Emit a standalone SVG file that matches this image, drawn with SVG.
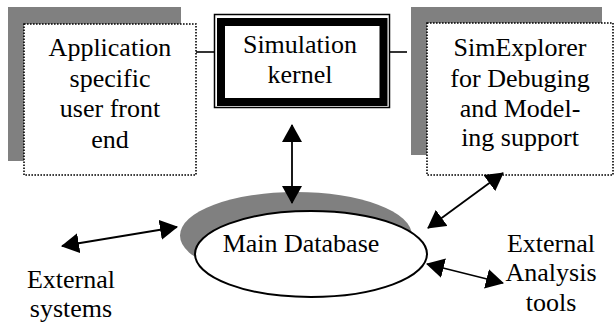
<svg xmlns="http://www.w3.org/2000/svg" width="616" height="325" viewBox="0 0 616 325">
<defs>
<style>
text{font-size:26px;fill:#000;text-anchor:middle}
.shadow{fill:#808080}
.dotted{fill:#fff;stroke:#000;stroke-width:1.6;stroke-dasharray:1.6 1.4}
.conn{stroke:#000;stroke-width:1.6;fill:none}
.arrow{stroke:#000;stroke-width:1.8;fill:none;marker-start:url(#ah);marker-end:url(#ah)}
</style>
<marker id="ah" viewBox="0 0 18 20" refX="17" refY="10" markerWidth="18" markerHeight="20" markerUnits="userSpaceOnUse" orient="auto-start-reverse">
<path d="M0,0 L18,10 L0,20 z" fill="#000"/>
</marker>
</defs>
<rect width="616" height="325" fill="#fff"/>
<g id="connectors">
<line class="conn" x1="196" y1="52" x2="214" y2="52"/>
<line class="conn" x1="390" y1="52" x2="407" y2="52"/>
</g>
<g font-family="'Liberation Serif', 'DejaVu Serif', serif">
<g id="app-frontend">
<rect class="shadow" x="8" y="7" width="173" height="154"/>
<rect class="dotted" x="24" y="24" width="172" height="151"/>
<text x="110" y="56">Application</text>
<text x="110" y="87">specific</text>
<text x="110" y="117">user front</text>
<text x="110" y="148">end</text>
</g>
<g id="sim-kernel">
<rect x="214.5" y="14.5" width="175" height="93" fill="#fff" stroke="#000" stroke-width="1.5"/>
<rect x="221" y="22" width="162.5" height="80" fill="#fff" stroke="#000" stroke-width="8"/>
<text x="300" y="53">Simulation</text>
<text x="300" y="83">kernel</text>
</g>
<g id="simexplorer">
<rect class="shadow" x="411" y="7" width="191" height="148"/>
<rect class="dotted" x="427" y="23" width="186" height="152"/>
<text x="520" y="56">SimExplorer</text>
<text x="520" y="87">for Debuging</text>
<text x="520" y="117">and Model-</text>
<text x="520" y="146">ing support</text>
</g>
<g id="main-database">
<ellipse class="shadow" cx="296" cy="235.5" rx="116" ry="43.5"/>
<ellipse cx="311" cy="254" rx="116" ry="43" fill="#fff" stroke="#000" stroke-width="2"/>
<text x="301" y="252">Main Database</text>
</g>
<g id="external-systems">
<text x="71" y="288">External</text>
<text x="71" y="317">systems</text>
</g>
<g id="external-analysis">
<text x="551" y="252">External</text>
<text x="551" y="281">Analysis</text>
<text x="551" y="311">tools</text>
</g>
</g>
<g id="arrows">
<line class="arrow" x1="292" y1="125" x2="292" y2="203"/>
<line class="arrow" x1="62" y1="246" x2="177" y2="227"/>
<line class="arrow" x1="428" y1="228" x2="503" y2="173"/>
<line class="arrow" x1="427" y1="264" x2="503" y2="283"/>
</g>
</svg>
